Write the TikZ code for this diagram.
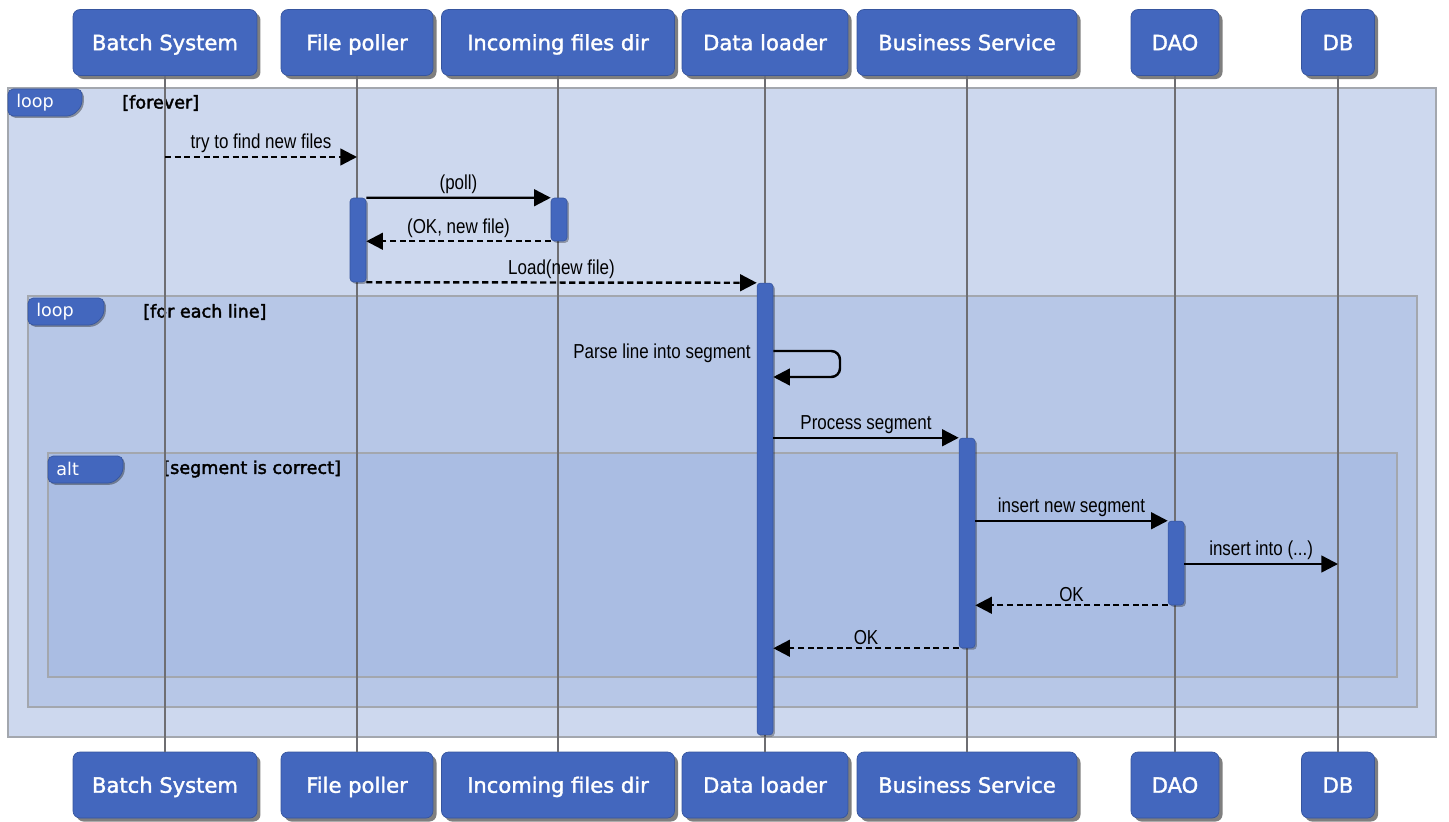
\documentclass[tikz,border=0pt]{standalone}
\usepackage{fontspec}
\setmainfont{DejaVu Sans}
\newfontfamily\pfont[FakeBold=1.6]{DejaVu Sans}
\newfontfamily\tfont{DejaVu Sans}
\newfontfamily\mfont[FakeStretch=0.84]{Liberation Sans}
\newfontfamily\ffont[FakeBold=2.2]{DejaVu Sans}
\usetikzlibrary{arrows.meta,shadows,calc}
\definecolor{boxblue}{HTML}{4367BE}
\definecolor{boxedge}{HTML}{36559E}
\definecolor{outerbg}{HTML}{CDD8EE}
\definecolor{innerbg}{HTML}{B7C7E7}
\definecolor{altbg}{HTML}{AABDE3}
\definecolor{framegray}{HTML}{A3A7AE}
\definecolor{lifegray}{HTML}{6E6E72}
\begin{document}
\begin{tikzpicture}[x=0.02cm,y=-0.02cm,
 pbox/.style={draw=boxedge, fill=boxblue, rounded corners=4pt, text=white,
   font=\pfont\fontsize{12}{14}\selectfont, minimum height=1.32cm, inner sep=0pt,
   text height=8.8pt, text depth=0pt,
   drop shadow={shadow xshift=2pt, shadow yshift=-2pt, opacity=0.5, fill=black}},
 act/.style={fill=boxblue, draw=boxedge, line width=0.3pt, rounded corners=2pt,
   minimum width=0.32cm, inner sep=0pt,
   drop shadow={shadow xshift=1pt, shadow yshift=-1pt, opacity=0.3, fill=black}},
 life/.style={draw=lifegray, line width=1pt},
 frm/.style={draw=framegray, line width=1.2pt},
 tagbox/.style={fill=boxblue, draw=boxedge, line width=0.4pt, rounded corners=3pt,
   drop shadow={shadow xshift=1pt, shadow yshift=-1pt, opacity=0.35, fill=black}},
 tagtext/.style={text=white, font=\tfont\fontsize{10}{12}\selectfont, anchor=west, inner sep=0pt},
 guard/.style={font=\ffont\fontsize{10}{12}\selectfont, anchor=west, inner sep=0pt},
 msg/.style={line width=1.4pt, -{Triangle[length=9.5pt,width=9.5pt]}},
 ret/.style={msg, dash pattern=on 3.5pt off 2pt},
 lbl/.style={font=\mfont\fontsize{11.5}{13}\selectfont, midway, above, inner sep=1.5pt}
]
\useasboundingbox[fill=white] (0,0) rectangle (1449,821);

% frames
\filldraw[frm, fill=outerbg] (8,88) rectangle (1436,737);
\filldraw[frm, fill=innerbg] (28,296) rectangle (1417,707);
\filldraw[frm, fill=altbg] (48,453) rectangle (1397,677);

% frame tags
\path[tagbox] (8,89) -- (82,89) -- (82,106) -- (72,116) -- (8,116) -- cycle;
\node[tagtext] (t1) at (16,103) {loop};
\node[guard] (g1) at (122,103) {[forever]};
\path[tagbox] (28,298) -- (104,298) -- (104,315) -- (94,325) -- (28,325) -- cycle;
\node[tagtext] (t2) at (36,312) {loop};
\node[guard] (g2) at (143,312) {[for each line]};
\path[tagbox] (48,456) -- (123,456) -- (123,473) -- (113,483) -- (48,483) -- cycle;
\node[tagtext] (t3) at (56,469) {alt};
\node[guard] (g3) at (163,469) {[segment is correct]};

% participants
\node[pbox, minimum width=3.68cm] (bsT) at (165,42.5) {Batch System};
\node[pbox, minimum width=3.04cm] (fpT) at (357,42.5) {File poller};
\node[pbox, minimum width=4.66cm] (ifT) at (558,42.5) {Incoming files dir};
\node[pbox, minimum width=3.32cm] (dlT) at (765,42.5) {Data loader};
\node[pbox, minimum width=4.40cm] (bvT) at (967,42.5) {Business Service};
\node[pbox, minimum width=1.76cm] (daT) at (1175,42.5) {DAO};
\node[pbox, minimum width=1.46cm] (dbT) at (1338,42.5) {DB};

\node[pbox, minimum width=3.68cm] (bsB) at (165,785) {Batch System};
\node[pbox, minimum width=3.04cm] (fpB) at (357,785) {File poller};
\node[pbox, minimum width=4.66cm] (ifB) at (558,785) {Incoming files dir};
\node[pbox, minimum width=3.32cm] (dlB) at (765,785) {Data loader};
\node[pbox, minimum width=4.40cm] (bvB) at (967,785) {Business Service};
\node[pbox, minimum width=1.76cm] (daB) at (1175,785) {DAO};
\node[pbox, minimum width=1.46cm] (dbB) at (1338,785) {DB};

% lifelines
\foreach \p in {bs,fp,if,dl,bv,da,db}
  \draw[life] (\p T.south) -- (\p B.north);

% activations
\node[act, minimum height=1.68cm] (aFP) at (358,240) {};
\node[act, minimum height=0.86cm] (aIF) at (559,219.5) {};
\node[act, minimum height=9.04cm] (aDL) at (765,509) {};
\node[act, minimum height=4.20cm] (aBV) at (967,543) {};
\node[act, minimum height=1.68cm] (aDA) at (1176,563) {};

% messages
\coordinate (m1a) at (bsT.south |- 0,157);
\coordinate (m1b) at (fpT.south |- 0,157);
\draw[ret] (m1a) -- (m1b) node[lbl] (l1) {try to find new files};
\draw[msg] (aFP.north east) -- (aIF.north west) node[lbl] (l2) {(poll)};
\draw[ret] (aIF.south west) -- (aFP.east |- aIF.south) node[lbl] (l3) {(OK, new file)};
\draw[ret] (aFP.south east) -- (aDL.north west) node[lbl] (l4) {Load(new file)};
\draw[msg, rounded corners=5pt] (aDL.east |- 0,351) -- (840,351) -- (840,377) -- (aDL.east |- 0,377);
\node[font=\mfont\fontsize{11.5}{13}\selectfont, anchor=east, inner sep=0pt] (l5) at (751,353) {Parse line into segment};
\draw[msg] (aDL.east |- aBV.north) -- (aBV.north west) node[lbl] (l6) {Process segment};
\draw[msg] (aBV.east |- aDA.north) -- (aDA.north west) node[lbl] (l7) {insert new segment};
\coordinate (m8a) at (aDA.east |- 0,564);
\coordinate (m8b) at (dbT.south |- 0,564);
\draw[msg] (m8a) -- (m8b) node[lbl] (l8) {insert into (...)};
\draw[ret] (aDA.south west) -- (aBV.east |- aDA.south) node[lbl] (l9) {OK};
\draw[ret] (aBV.south west) -- (aDL.east |- aBV.south) node[lbl] (l10) {OK};
\end{tikzpicture}
\end{document}
